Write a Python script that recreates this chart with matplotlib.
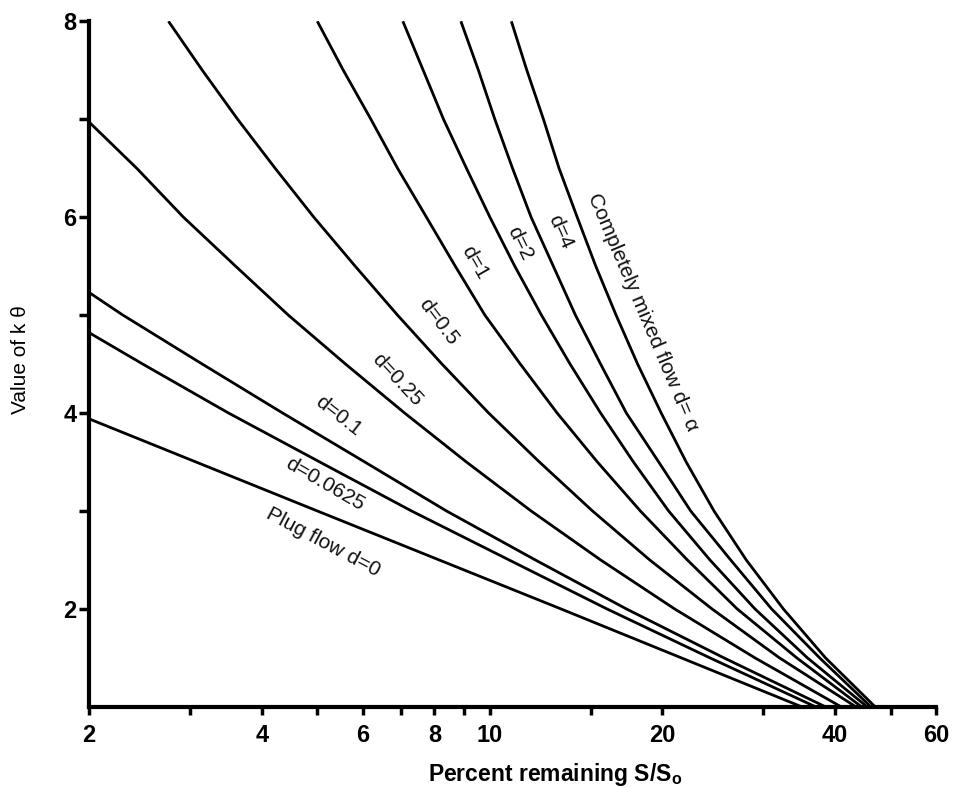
import matplotlib
matplotlib.use("Agg")
import matplotlib.pyplot as plt
from matplotlib.ticker import FixedLocator, NullFormatter

plt.rcParams['font.family'] = ['Liberation Sans', 'DejaVu Sans']

# kθ levels at which the upper curves are read (half steps)
k_levels = [8, 7.5, 7, 6.5, 6, 5.5, 5, 4.5, 4, 3.5, 3, 2.5, 2, 1.5, 1]

# percent remaining (x) with matching kθ (y)
plug_x = [2, 5.0, 13.3, 35.0]
plug_y = [3.94, 3.0, 2.0, 1.0]

d00625_x = [2, 2.48, 3.5, 5.05, 7.3, 10.8, 16.0, 24.2, 37.0]
d00625_y = [4.82, 4.5, 4, 3.5, 3, 2.5, 2, 1.5, 1]

d01_x = [2, 2.29, 3.15, 4.35, 6.05, 8.4, 12.0, 17.3, 25.6, 38.5]
d01_y = [5.23, 5, 4.5, 4, 3.5, 3, 2.5, 2, 1.5, 1]

d025_x = [2, 2.42, 2.92, 3.6, 4.45, 5.6, 7.1, 9.1, 11.8, 15.6, 21.0, 29.0, 41.0]
d025_y = [6.97, 6.5, 6, 5.5, 5, 4.5, 4, 3.5, 3, 2.5, 2, 1.5, 1]

d05_x = [2.75, 3.15, 3.63, 4.22, 4.93, 5.82, 6.9, 8.25, 9.95, 12.2, 15.1,
         19.0, 24.4, 32.0, 43.5]
d1_x = [5.0, 5.55, 6.2, 6.9, 7.75, 8.7, 9.8, 11.3, 13.1, 15.4, 18.3,
        22.1, 27.0, 34.3, 44.5]
d2_x = [7.05, 7.65, 8.3, 9.1, 10.0, 11.05, 12.3, 13.8, 15.6, 17.8, 20.5,
        24.2, 29.0, 35.8, 45.5]
d4_x = [8.9, 9.55, 10.2, 10.95, 11.8, 12.9, 14.1, 15.6, 17.3, 19.7, 22.4,
        26.3, 31.0, 37.6, 46.2]
cm_x = [10.9, 11.6, 12.4, 13.2, 14.2, 15.3, 16.6, 18.1, 19.9, 22.0, 24.6,
        28.0, 32.5, 38.5, 47.0]

curves = [
    (plug_x, plug_y),
    (d00625_x, d00625_y),
    (d01_x, d01_y),
    (d025_x, d025_y),
    (d05_x, k_levels),
    (d1_x, k_levels),
    (d2_x, k_levels),
    (d4_x, k_levels),
    (cm_x, k_levels),
]

# curve labels: text, x, y, rotation
labels = [
    ("Plug flow d=0", 5.12, 2.68, -28),
    ("d=0.0625", 5.16, 3.27, -30),
    ("d=0.1", 5.44, 3.97, -38),
    ("d=0.25", 6.9, 4.34, -47),
    ("d=0.5", 8.14, 4.93, -53),
    ("d=1", 9.41, 5.54, -60),
    ("d=2", 11.28, 5.73, -64),
    ("d=4", 13.26, 5.85, -66),
    ("Completely mixed flow d= α", 18.45, 5.03, -67),
]

x_major = [2, 4, 6, 8, 10, 20, 40, 60]
x_minor = [3, 5, 7, 9, 15, 30, 50]
y_major = [2, 4, 6, 8]
y_minor = [3, 5, 7]

fig = plt.figure(figsize=(9.59, 7.88), dpi=100)
ax = fig.add_axes([0.093, 0.103, 0.883, 0.870])

for xs, ys in curves:
    ax.plot(xs, ys, color='black', linewidth=2.0, solid_capstyle='butt',
            solid_joinstyle='round')

for txt, lx, ly, rot in labels:
    ax.text(lx, ly, txt, rotation=rot, rotation_mode='anchor',
            ha='center', va='center', fontsize=15, color='#111111')

ax.set_xscale('log')
ax.set_xlim(2, 60)
ax.set_ylim(1, 8)

ax.xaxis.set_major_locator(FixedLocator(x_major))
ax.xaxis.set_minor_locator(FixedLocator(x_minor))
ax.xaxis.set_minor_formatter(NullFormatter())
ax.set_xticklabels([str(v) for v in x_major])
ax.yaxis.set_major_locator(FixedLocator(y_major))
ax.yaxis.set_minor_locator(FixedLocator(y_minor))

ax.tick_params(which='both', direction='out', width=2.5, color='black')
ax.tick_params(axis='y', which='both', length=7, labelsize=17, pad=2)
ax.tick_params(axis='x', which='both', length=6, labelsize=17, pad=6)
for lab in ax.get_xticklabels() + ax.get_yticklabels():
    lab.set_fontweight('bold')

for side in ['top', 'right']:
    ax.spines[side].set_visible(False)
for side in ['left', 'bottom']:
    ax.spines[side].set_linewidth(3)

ax.set_ylabel('Value of k θ', fontsize=15, va='center')
ax.yaxis.set_label_coords(-0.081, 0.506)
ax.set_xlabel('Percent remaining S/S$_\\mathregular{o}$', fontsize=16.5,
              fontweight='bold', va='center')
ax.xaxis.set_label_coords(0.55, -0.099)

fig.savefig('out.png', dpi=100, facecolor='white')
